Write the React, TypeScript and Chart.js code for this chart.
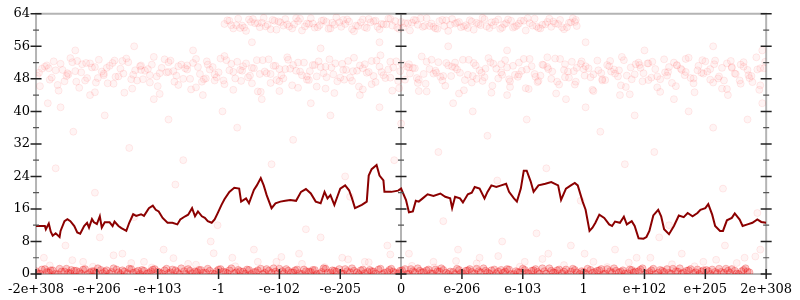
import React, { useEffect, useRef } from 'react';
import { Chart, registerables } from 'chart.js';

Chart.register(...registerables);

// X axis: 744 bins, 13 labelled ticks
const xTickLabels = ['-2e+308', '-e+206', '-e+103', '-1', '-e-102', '-e-205', '0', 'e-206', 'e-103', '1', 'e+102', 'e+205', '2e+308'];
const xTickValues = [0, 62, 124, 186, 248, 310, 372, 434, 496, 558, 620, 682, 744];
const yTickValues = [0, 8, 16, 24, 32, 40, 48, 56, 64];
const yMinorTicks = [4, 12, 20, 28, 36, 44, 52, 60];
const zeroBin = 372;

// Smoothed line
const lineX = [0, 9, 10, 13, 15, 17, 20, 24, 25, 29, 32, 35, 39, 42, 45, 49, 52, 54, 57, 59, 62, 65, 67, 70, 75, 78, 80, 84, 87, 92, 95, 99, 102, 107, 110, 115, 119, 122, 125, 129, 134, 139, 144, 147, 152, 155, 159, 162, 165, 169, 172, 175, 179, 182, 185, 189, 192, 197, 202, 207, 209, 214, 217, 222, 225, 229, 232, 235, 240, 244, 249, 254, 259, 265, 270, 275, 280, 285, 290, 294, 297, 300, 304, 307, 310, 315, 319, 322, 325, 332, 337, 339, 342, 347, 350, 354, 355, 362, 369, 372, 377, 380, 384, 387, 390, 394, 399, 405, 412, 417, 422, 424, 427, 432, 435, 440, 444, 447, 452, 457, 460, 464, 469, 474, 479, 482, 487, 490, 494, 497, 500, 504, 507, 512, 519, 525, 532, 535, 540, 545, 549, 552, 557, 560, 564, 567, 570, 574, 579, 584, 587, 590, 595, 599, 602, 607, 610, 614, 619, 622, 625, 629, 634, 637, 640, 645, 650, 655, 660, 664, 669, 674, 677, 682, 685, 689, 692, 697, 700, 704, 709, 712, 717, 720, 725, 730, 735, 739, 744];
const lineY = [11.8, 11.8, 11.0, 12.4, 10.4, 9.4, 10.0, 9.1, 10.6, 13.0, 13.5, 13.0, 11.8, 10.2, 9.9, 11.8, 12.6, 11.4, 13.5, 12.7, 12.3, 14.2, 11.4, 12.7, 12.7, 11.8, 12.9, 11.8, 11.3, 10.6, 12.6, 14.7, 14.3, 14.7, 14.3, 16.2, 16.8, 15.8, 15.4, 13.8, 12.6, 12.6, 12.2, 13.4, 14.2, 14.6, 16.2, 14.2, 15.4, 14.2, 13.8, 13.0, 12.6, 13.4, 14.9, 17.0, 18.4, 20.2, 21.2, 21.0, 17.8, 18.6, 17.4, 20.7, 21.8, 23.6, 21.8, 19.4, 16.2, 17.4, 17.8, 18.0, 18.2, 18.0, 20.2, 20.9, 19.8, 17.8, 17.4, 20.2, 18.6, 19.4, 17.0, 19.0, 21.0, 21.8, 20.6, 18.6, 16.2, 17.0, 17.8, 24.2, 25.8, 26.8, 24.2, 23.0, 20.2, 20.2, 20.5, 21.0, 18.2, 15.2, 15.4, 18.0, 17.8, 18.6, 19.6, 19.2, 19.8, 19.0, 18.6, 16.2, 19.0, 18.6, 17.6, 19.6, 20.0, 21.4, 21.0, 18.6, 20.2, 21.8, 21.4, 21.8, 22.2, 20.2, 18.6, 17.8, 21.0, 25.4, 25.4, 22.8, 20.2, 21.8, 22.2, 22.6, 21.8, 18.2, 21.0, 21.8, 22.4, 21.8, 17.8, 15.8, 10.6, 11.4, 12.6, 14.6, 13.8, 12.2, 11.8, 12.9, 12.6, 14.1, 12.2, 13.0, 11.8, 8.8, 8.7, 9.1, 10.6, 14.4, 15.8, 14.2, 11.0, 9.8, 11.8, 14.4, 14.0, 15.0, 14.2, 15.0, 15.8, 16.2, 17.2, 14.6, 11.8, 10.6, 10.6, 13.2, 13.8, 14.9, 13.4, 11.8, 12.2, 12.6, 13.4, 12.8, 12.6];

// Dense band near zero
const bottomX = [2, 6, 11, 15, 19, 24, 29, 33, 36, 41, 46, 50, 55, 59, 63, 68, 72, 77, 82, 86, 90, 95, 99, 104, 108, 113, 117, 121, 126, 131, 135, 139, 144, 148, 153, 157, 162, 166, 170, 175, 180, 184, 188, 193, 197, 202, 206, 211, 215, 219, 224, 229, 233, 237, 242, 246, 251, 255, 260, 264, 268, 273, 278, 282, 286, 291, 295, 300, 304, 309, 313, 317, 322, 327, 331, 335, 340, 344, 349, 353, 358, 362, 366, 371, 376, 380, 384, 389, 393, 398, 402, 407, 411, 415, 420, 425, 429, 433, 438, 442, 447, 451, 456, 460, 464, 469, 474, 478, 482, 487, 491, 496, 500, 505, 509, 513, 518, 523, 527, 531, 536, 540, 545, 549, 554, 558, 562, 567, 572, 576, 580, 585, 589, 594, 598, 603, 607, 611, 616, 621, 625, 629, 634, 638, 643, 647, 652, 656, 660, 665, 670, 674, 678, 683, 687, 692, 696, 701, 705, 709, 714, 719, 723, 727, 732, 736, 741];
const bottomY = [0.2, 1.1, 0.5, 0.9, 0, 1.3, 0.6, 0.3, 1, 0.8, 0.1, 1.2, 0.4, 0.7, 1.4, 0.2, 0.9, 0.5, 1.1, 0, 0.6, 1.3, 0.3, 0.8, 1, 0.1, 0.7, 1.2, 0.4, 0.9, 0.2, 1.1, 0.5, 1.4, 0, 0.8, 0.6, 1, 0.3, 1.3, 0.1, 0.7, 1.2, 0.4, 0.9, 0.2, 1, 0.6, 1.1, 0, 0.5, 1.3, 0.3, 0.8, 1.4, 0.1, 0.7, 1.2, 0.4, 0.9, 0.2, 1.1, 0.6, 1, 0, 0.5, 1.3, 0.3, 0.8, 1.2, 0.1, 0.7, 1.4, 0.4, 0.9, 0.2, 1, 0.6, 1.1, 0, 0.5, 1.3, 0.3, 0.8, 1.2, 0.1, 0.7, 1.4, 0.4, 0.9, 0.2, 1.1, 0.6, 1, 0, 0.5, 1.3, 0.3, 0.8, 1.2, 0.1, 0.7, 1.4, 0.4, 0.9, 0.2, 1, 0.6, 1.1, 0, 0.5, 1.3, 0.3, 0.8, 1.2, 0.1, 0.7, 1.4, 0.4, 0.9, 0.2, 1.1, 0.6, 1, 0, 0.5, 1.3, 0.3, 0.8, 1.2, 0.1, 0.7, 1.4, 0.4, 0.9, 0.2, 1, 0.6, 1.1, 0, 0.5, 1.3, 0.3, 0.8, 1.2, 0.1, 0.7, 1.4, 0.4, 0.9, 0.2, 1.1, 0.6, 1, 0, 0.5, 1.3, 0.3, 0.8, 1.2, 0.1, 0.7, 1.4, 0.4];
const bottomX2 = [0, 4, 9, 13, 17, 22, 26, 31, 35, 39, 44, 48, 53, 57, 61, 66, 70, 75, 79, 84, 88, 93, 97, 102, 106, 110, 115, 119, 124, 128, 133, 137, 142, 146, 151, 155, 159, 164, 168, 173, 177, 182, 186, 191, 195, 199, 204, 208, 213, 217, 222, 226, 231, 235, 240, 244, 248, 253, 257, 262, 266, 271, 275, 280, 284, 289, 293, 297, 302, 306, 311, 315, 320, 324, 329, 333, 338, 342, 346, 351, 355, 360, 364, 369, 373, 378, 382, 386, 391, 395, 400, 404, 409, 413, 418, 422, 427, 431, 435, 440, 444, 449, 453, 458, 462, 467, 471, 476, 480, 484, 489, 493, 498, 502, 507, 511, 516, 520, 525, 529, 533, 538, 542, 547, 551, 556, 560, 565, 569, 574, 578, 582, 587, 591, 596, 600, 605, 609, 614, 618, 623, 627, 631, 636, 640, 645, 649, 654, 658, 663, 667, 672, 676, 680, 685, 689, 694, 698, 703, 707, 712, 716, 721, 725, 729, 734, 738, 743];
const bottomY2 = [0.7, 0.1, 1.2, 0.4, 0.9, 0, 0.6, 1.3, 0.2, 0.8, 0.5, 1.1, 0, 0.7, 0.3, 1, 0.6, 0.1, 1.4, 0.4, 0.9, 0.2, 1.2, 0.5, 0, 0.8, 0.3, 1.1, 0.6, 0.1, 1.3, 0.4, 0.9, 0, 0.7, 1.2, 0.2, 0.5, 1, 0.3, 0.8, 0, 1.1, 0.6, 0.2, 1.4, 0.4, 0.7, 0.1, 1, 0.5, 0.9, 0, 1.2, 0.3, 0.6, 1.3, 0.2, 0.8, 0.4, 1.1, 0, 0.7, 0.5, 1, 0.1, 1.4, 0.3, 0.9, 0.6, 0.2, 1.2, 0.4, 0.8, 0, 1.1, 0.5, 0.7, 0.1, 1.3, 0.3, 1, 0.6, 0.2, 0.9, 0, 1.2, 0.4, 0.8, 0.5, 1.1, 0.1, 0.7, 1.4, 0.3, 0.6, 0, 1, 0.2, 0.9, 0.5, 1.3, 0.4, 0.8, 0.1, 1.1, 0.6, 0.3, 1.2, 0, 0.7, 0.4, 1, 0.2, 0.9, 0.5, 1.4, 0.1, 0.8, 0.3, 1.1, 0.6, 0, 1.3, 0.4, 0.7, 0.2, 1, 0.5, 0.9, 0, 1.2, 0.3, 0.8, 0.6, 0.1, 1.1, 0.4, 0.7, 1.4, 0.2, 0.9, 0, 1, 0.5, 0.3, 1.3, 0.6, 0.1, 0.8, 1.2, 0.4, 0, 0.9, 0.7, 1.1, 0.2, 0.5, 1.3, 0.3, 0.8, 0, 1, 0.6];
const lowX = [14, 37, 58, 79, 97, 118, 140, 163, 181, 203, 226, 250, 271, 294, 318, 339, 361, 383, 406, 428, 449, 471, 493, 516, 538, 559, 582, 604, 626, 648, 671, 693, 714, 733];
const lowY = [2.1, 3.4, 1.8, 4.6, 2.7, 1.6, 3.9, 2.3, 5.1, 1.9, 3, 4.2, 2.5, 1.7, 3.6, 2.9, 4.8, 2, 1.6, 3.2, 2.6, 4.4, 1.8, 3.7, 2.2, 5, 1.7, 2.8, 4, 2.4, 1.9, 3.5, 2.7, 4.3];

// Middle band (~44–54)
const midX = [3, 9, 14, 18, 22, 27, 31, 35, 40, 44, 47, 52, 57, 61, 64, 69, 73, 78, 81, 86, 90, 94, 99, 103, 107, 111, 116, 120, 124, 128, 133, 137, 141, 145, 150, 154, 158, 163, 167, 171, 175, 180, 184, 188, 192, 197, 201, 205, 209, 214, 218, 222, 226, 231, 235, 239, 244, 248, 252, 256, 261, 265, 269, 273, 278, 282, 286, 290, 295, 299, 303, 307, 312, 316, 320, 324, 329, 333, 337, 342, 346, 350, 354, 359, 363, 367, 371, 376, 380, 384, 388, 393, 397, 401, 405, 410, 414, 418, 423, 427, 431, 435, 440, 444, 448, 452, 457, 461, 465, 469, 474, 478, 482, 486, 491, 495, 499, 503, 508, 512, 516, 521, 525, 529, 533, 538, 542, 546, 550, 555, 559, 563, 567, 572, 576, 580, 584, 589, 593, 597, 601, 606, 610, 614, 618, 623, 627, 631, 636, 640, 644, 648, 653, 657, 661, 665, 670, 674, 678, 682, 687, 691, 695, 699, 704, 708, 712, 717, 721, 725, 729, 734, 738, 742];
const midY = [49.5, 51, 47.8, 52.3, 46.5, 50.2, 48.7, 53.1, 49.9, 45.8, 51.6, 48.2, 50.8, 47.1, 52.7, 49.3, 46.9, 51.9, 48.5, 50.5, 44.6, 52.1, 49, 47.6, 51.3, 50, 48.9, 53.4, 46.2, 50.7, 49.6, 52.5, 47.3, 51.1, 48, 50.3, 45.4, 52.9, 49.2, 47.9, 51.5, 50.9, 48.4, 53, 46.7, 50.1, 49.7, 52.2, 47.5, 51.8, 48.8, 50.6, 44.9, 52.6, 49.4, 47, 51.2, 50.4, 48.1, 53.3, 46.4, 50, 49.8, 52, 47.7, 51.4, 48.6, 50.9, 45.6, 52.8, 49.1, 47.4, 51.7, 50.2, 48.3, 53.2, 46.1, 50.6, 49.5, 52.4, 47.2, 51, 48.9, 50.3, 45.1, 52.3, 49.9, 47.8, 51.6, 50.7, 48.2, 53.5, 46.8, 50.4, 49.3, 52.1, 47.6, 51.9, 48.7, 50.8, 44.4, 52.7, 49, 47.1, 51.3, 50.1, 48.4, 53.1, 46.3, 50.5, 49.6, 52.6, 47.9, 51.2, 48.5, 50, 45.7, 52.9, 49.2, 47.5, 51.5, 50.9, 48, 53, 46.6, 50.2, 49.8, 52.2, 47.3, 51.7, 48.8, 50.6, 45.3, 52.5, 49.4, 47.7, 51.1, 50.3, 48.6, 53.4, 46, 50.8, 49.1, 52, 47.4, 51.8, 48.3, 50.4, 44.8, 52.8, 49.7, 47, 51.4, 50.5, 48.9, 53.2, 46.9, 50.1, 49.5, 52.3, 47.8, 51.6, 48.1, 50.7, 45.5, 52.4, 49.3, 47.6, 51, 50.2, 48.7, 53.3, 46.4, 50.6];
const midX2 = [6, 16, 25, 33, 42, 50, 60, 67, 75, 84, 92, 101, 109, 118, 126, 135, 143, 152, 160, 169, 177, 186, 194, 203, 211, 220, 228, 237, 245, 254, 262, 271, 279, 288, 296, 305, 313, 322, 330, 339, 347, 356, 364, 373, 381, 390, 398, 407, 415, 424, 432, 441, 449, 458, 466, 475, 483, 492, 500, 509, 517, 526, 534, 543, 551, 560, 568, 577, 585, 594, 602, 611, 619, 628, 636, 645, 653, 662, 670, 679, 687, 696, 704, 713, 721, 730, 738];
const midY2 = [50.5, 48.3, 51.7, 49.1, 52.4, 47.6, 50.9, 49.8, 51.2, 48.6, 53, 50.1, 47.9, 51.5, 49.4, 52.1, 48.8, 50.6, 51.9, 47.3, 50.3, 49.6, 52.6, 48.1, 51.1, 50.7, 49.2, 52.8, 47.7, 50.4, 51.4, 48.9, 49.9, 52.3, 48.4, 51.8, 50.2, 47.5, 51.3, 49.7, 52.5, 48.2, 50.8, 51.6, 49.3, 47.8, 52.2, 50, 48.7, 51, 49.5, 52.7, 48, 50.5, 51.7, 49, 47.4, 52, 50.3, 48.5, 51.4, 49.8, 52.9, 48.3, 50.7, 51.1, 49.1, 47.6, 52.4, 50.1, 48.8, 51.6, 49.4, 52.2, 47.9, 50.9, 51.3, 49.7, 48.1, 52.6, 50.4, 48.6, 51.8, 49.2, 52.1, 47.2, 50.6];
const midX3 = [1, 11, 20, 29, 37, 46, 55, 63, 72, 80, 89, 97, 106, 114, 123, 131, 140, 148, 157, 165, 174, 182, 191, 199, 208, 216, 225, 233, 242, 250, 259, 267, 276, 284, 293, 301, 310, 318, 327, 335, 344, 352, 361, 369, 378, 386, 395, 403, 412, 420, 429, 437, 446, 454, 463, 471, 480, 488, 497, 505, 514, 522, 531, 539, 548, 556, 565, 573, 582, 590, 599, 607, 616, 624, 633, 641, 650, 658, 667, 675, 684, 692, 701, 709, 718, 726, 735, 743];
const midY3 = [48.8, 51.3, 50.1, 47.4, 52.1, 49.6, 51.8, 48.2, 50.7, 52.5, 49.3, 47.9, 51.1, 50.4, 48.6, 52.8, 49.9, 51.5, 48, 50.9, 52.3, 49.1, 47.6, 51.7, 50.2, 48.4, 52.6, 49.8, 51.2, 48.9, 50.5, 52, 47.8, 51.4, 49.4, 50.8, 48.3, 52.4, 50, 51.6, 48.7, 49.7, 52.2, 47.5, 51, 50.6, 49.2, 52.7, 48.5, 51.3, 50.3, 47.7, 51.9, 49.5, 52.1, 48.1, 50.8, 49, 52.9, 51.1, 48.8, 50.4, 47.3, 51.6, 49.9, 52.3, 48.4, 50.1, 51.4, 49.3, 52.6, 47.9, 50.7, 51.8, 48.6, 49.6, 52, 50.2, 48.2, 51.2, 49.8, 52.5, 47.6, 50.9, 51.5, 48.9, 50.3, 52.2];
const midX4 = [4, 13, 23, 32, 41, 51, 60, 69, 79, 88, 98, 107, 116, 126, 135, 145, 154, 163, 173, 182, 192, 201, 210, 220, 229, 239, 248, 257, 267, 276, 286, 295, 304, 314, 323, 333, 342, 351, 361, 370, 380, 389, 398, 408, 417, 427, 436, 445, 455, 464, 474, 483, 492, 502, 511, 521, 530, 539, 549, 558, 568, 577, 586, 596, 605, 615, 624, 633, 643, 652, 662, 671, 680, 690, 699, 709, 718, 727, 737];
const midY4 = [46.2, 50.6, 45.1, 49.4, 47.3, 51.9, 44.7, 48.9, 46.8, 52.4, 45.6, 50.2, 47.1, 44.3, 49.7, 46.5, 51.3, 45.9, 48.1, 47.6, 53.6, 45.3, 50, 46.9, 44.8, 49.2, 47.4, 52.7, 45.8, 48.6, 46.1, 51, 44.5, 47.8, 49.9, 45.4, 46.7, 53.8, 48.3, 45.7, 50.8, 47, 44.9, 49.5, 46.3, 52, 45.2, 48.7, 47.5, 44.6, 51.6, 46, 49.1, 45.5, 47.2, 53.3, 44.4, 48.4, 46.6, 50.4, 45, 47.9, 49.8, 46.4, 44.2, 51.4, 47.7, 45.9, 48.8, 46.2, 52.9, 44.7, 49.3, 47.1, 45.6, 50.7, 46.8, 48.2, 45.3];

// Top band (~60–63), only between -1 and 1
const topX = [192, 197, 201, 206, 210, 214, 219, 223, 228, 232, 236, 241, 245, 249, 254, 258, 263, 267, 271, 276, 280, 284, 289, 293, 298, 302, 306, 311, 315, 319, 324, 328, 333, 337, 341, 346, 350, 354, 359, 363, 368, 372, 376, 381, 385, 389, 394, 398, 403, 407, 411, 416, 420, 424, 429, 433, 438, 442, 446, 451, 455, 459, 464, 468, 473, 477, 481, 486, 490, 494, 499, 503, 508, 512, 516, 521, 525, 529, 534, 538, 543, 547, 551];
const topY = [61.5, 62.3, 60.4, 62.8, 61.1, 59.8, 62, 61.7, 60.7, 63, 61.3, 62.5, 60.1, 61.9, 62.7, 60.9, 61.4, 62.2, 59.9, 61.6, 62.9, 60.6, 61.2, 62.4, 60.3, 61.8, 63.1, 60.8, 61.5, 62.1, 59.7, 61, 62.6, 60.5, 61.9, 62.3, 60.2, 61.4, 62.8, 61.1, 60.6, 62, 61.7, 59.9, 62.5, 61.3, 60.8, 62.9, 61.6, 60.4, 62.2, 61, 59.8, 62.7, 61.8, 60.7, 61.2, 62.4, 60.1, 61.5, 63, 60.9, 61.9, 62.1, 60.3, 61.4, 62.6, 60.6, 61.1, 62.3, 59.9, 61.7, 62.8, 60.5, 61.3, 62, 60.8, 61.6, 62.5, 60.2, 61.8, 62.9, 61];
const topX2 = [195, 204, 212, 221, 230, 239, 247, 256, 265, 274, 282, 291, 300, 309, 317, 326, 335, 344, 352, 361, 370, 379, 387, 396, 405, 414, 422, 431, 440, 449, 457, 466, 475, 484, 492, 501, 510, 519, 527, 536, 545, 550];
const topY2 = [62.4, 61.2, 60.6, 62.7, 61.8, 60.2, 62.1, 61.4, 62.9, 60.9, 61.6, 62.3, 60.4, 61.9, 62.6, 61.1, 60.7, 62.2, 61.5, 62.8, 60.3, 61.7, 62.4, 61, 60.8, 62.5, 61.3, 62, 60.5, 61.8, 62.7, 61.2, 60.6, 62.3, 61.6, 62.9, 60.9, 61.4, 62.1, 60.7, 61.9, 62.5];
const topX3 = [199, 208, 217, 226, 234, 243, 252, 261, 269, 278, 287, 296, 304, 313, 322, 331, 339, 348, 357, 366, 374, 383, 392, 401, 409, 418, 427, 436, 444, 453, 462, 471, 479, 488, 497, 506, 514, 523, 532, 541, 549];
const topY3 = [61.2, 60.5, 62.6, 61.7, 60.9, 62.3, 61.1, 60.4, 62.8, 61.5, 60.7, 62, 61.3, 62.5, 60.2, 61.9, 62.7, 60.8, 61.4, 62.2, 60.6, 61.8, 62.9, 61, 60.3, 62.4, 61.6, 60.9, 62.1, 61.2, 60.5, 62.6, 61.7, 60.8, 62.3, 61.1, 60.4, 62.8, 61.5, 60.7, 62];

// Sparse scattered points
const sparseX = [12, 25, 38, 55, 70, 95, 120, 135, 150, 170, 190, 205, 230, 248, 262, 280, 300, 315, 330, 350, 372, 390, 410, 425, 445, 460, 480, 500, 520, 540, 560, 575, 595, 610, 630, 650, 665, 690, 705, 725, 740, 8, 30, 48, 65, 88, 110, 130, 155, 178, 200, 222, 245, 268, 290, 312, 335, 358, 380, 405, 430, 452, 475, 498, 522, 545, 568, 590, 612, 635, 658, 680, 702, 722, 738, 20, 60, 100, 142, 185, 240, 275, 320, 365, 415, 470, 510, 555, 600, 645, 700, 735, 40, 100, 160, 220, 290, 350, 420, 480, 560, 620, 690, 740];
const sparseY = [42, 41, 35, 44, 39, 31, 43, 38, 28, 44, 40, 36, 43, 45, 33, 42, 39, 24, 44, 41, 37, 45, 30, 42, 40, 34, 44, 38, 26, 43, 41, 35, 44, 39, 30, 43, 40, 36, 44, 38, 42, 4, 7, 3, 9, 5, 3, 6, 2.5, 8, 4, 6, 3, 5, 9, 4, 3, 7, 5, 3, 6, 4, 8, 3, 5, 7, 3, 6, 4, 9, 5, 3, 7, 4, 6, 26, 20, 14, 22, 12, 27, 11, 19, 28, 13, 23, 10, 18, 27, 12, 21, 15, 55, 56, 55, 57, 55.5, 57, 56, 55, 57, 55, 56, 55];

const zip = (xs: number[], ys: number[]) => {
  const n = Math.min(xs.length, ys.length);
  const out: { x: number; y: number }[] = [];
  for (let i = 0; i < n; i++) out.push({ x: xs[i], y: ys[i] });
  return out;
};

const FONT = { family: '"DejaVu Serif", serif', size: 13 };

const axesPlugin = {
  id: 'axesFrame',
  beforeDatasetsDraw(chart: any) {
    const { ctx, chartArea: a, scales } = chart;
    const cx = Math.round(scales.x.getPixelForValue(zeroBin));
    ctx.save();
    ctx.strokeStyle = '#b4b4b4';
    ctx.lineWidth = 2;
    ctx.beginPath();
    ctx.moveTo(a.left, a.top); ctx.lineTo(a.right, a.top);
    ctx.moveTo(a.left, a.bottom); ctx.lineTo(a.right, a.bottom);
    ctx.moveTo(a.left, a.top - 1); ctx.lineTo(a.left, a.bottom + 1);
    ctx.moveTo(a.right, a.top - 1); ctx.lineTo(a.right, a.bottom + 1);
    ctx.moveTo(cx, a.top - 1); ctx.lineTo(cx, a.bottom + 1);
    ctx.stroke();
    ctx.restore();
  },
  afterDatasetsDraw(chart: any) {
    const { ctx, chartArea: a, scales } = chart;
    const cx = Math.round(scales.x.getPixelForValue(zeroBin));
    const ys = scales.y;
    const xs = [a.left, cx, a.right];
    ctx.save();
    ctx.lineWidth = 1.5;
    ctx.strokeStyle = '#222';
    ctx.beginPath();
    yTickValues.forEach((v) => {
      const py = ys.getPixelForValue(v);
      xs.forEach((px) => { ctx.moveTo(px - 5.5, py); ctx.lineTo(px + 5.5, py); });
    });
    xTickValues.forEach((v) => {
      const px = scales.x.getPixelForValue(v);
      ctx.moveTo(px, a.bottom - 5); ctx.lineTo(px, a.bottom + 5);
    });
    ctx.stroke();
    ctx.strokeStyle = '#555';
    ctx.lineWidth = 1.2;
    ctx.beginPath();
    yMinorTicks.forEach((v) => {
      const py = ys.getPixelForValue(v);
      xs.forEach((px) => { ctx.moveTo(px - 3, py); ctx.lineTo(px + 3, py); });
    });
    ctx.stroke();
    ctx.restore();
  },
};

const pale = { backgroundColor: 'rgba(255,0,0,0.045)', borderColor: 'rgba(255,0,0,0.08)', pointRadius: 3.5, borderWidth: 1, clip: 0, order: 2 };
const dense = { backgroundColor: 'rgba(235,0,0,0.2)', borderColor: 'rgba(235,0,0,0.24)', pointRadius: 3.5, borderWidth: 1, clip: 0, order: 1 };

export default function App() {
  const ref = useRef<HTMLCanvasElement | null>(null);
  useEffect(() => {
    if (!ref.current) return;
    const chart = new Chart(ref.current, {
      type: 'scatter',
      data: {
        datasets: [
          { label: 'avg', data: zip(lineX, lineY), showLine: true, borderColor: '#8b0000', backgroundColor: '#8b0000', borderWidth: 2, pointRadius: 0, tension: 0, order: 0, clip: 0 } as any,
          { label: 'bottom', data: zip(bottomX, bottomY), ...dense } as any,
          { label: 'bottom2', data: zip(bottomX2, bottomY2), ...dense } as any,
          { label: 'low', data: zip(lowX, lowY), ...pale } as any,
          { label: 'mid', data: zip(midX, midY), ...pale } as any,
          { label: 'mid2', data: zip(midX2, midY2), ...pale } as any,
          { label: 'mid3', data: zip(midX3, midY3), ...pale } as any,
          { label: 'mid4', data: zip(midX4, midY4), ...pale } as any,
          { label: 'top', data: zip(topX, topY), ...pale } as any,
          { label: 'top2', data: zip(topX2, topY2), ...pale } as any,
          { label: 'top3', data: zip(topX3, topY3), ...pale } as any,
          { label: 'sparse', data: zip(sparseX, sparseY), ...pale } as any,
        ],
      },
      options: {
        animation: false,
        responsive: false,
        events: [],
        layout: { padding: { top: 8, right: 26, left: 0, bottom: 0 } },
        plugins: { legend: { display: false }, tooltip: { enabled: false } },
        scales: {
          x: {
            type: 'linear',
            min: 0,
            max: 744,
            grid: { display: false, drawTicks: false },
            border: { display: false },
            afterBuildTicks: (s: any) => { s.ticks = xTickValues.map((v) => ({ value: v })); },
            afterFit: (s: any) => { s.height = 26; },
            ticks: {
              autoSkip: false,
              maxRotation: 0,
              minRotation: 0,
              padding: 8,
              color: '#000',
              font: FONT,
              callback: (v: any) => { const i = xTickValues.indexOf(Number(v)); return i >= 0 ? xTickLabels[i] : ''; },
            },
          },
          y: {
            type: 'linear',
            min: 0,
            max: 64,
            grid: { display: false, drawTicks: false },
            border: { display: false },
            afterBuildTicks: (s: any) => { s.ticks = yTickValues.map((v) => ({ value: v })); },
            afterFit: (s: any) => { s.width = 28; },
            ticks: { padding: 6, color: '#000', font: FONT },
          },
        },
      } as any,
      plugins: [axesPlugin],
    });
    return () => chart.destroy();
  }, []);
  return (
    <div style={{ position: 'absolute', left: 0, top: 0, width: 800, height: 300 }}>
      <canvas ref={ref} width={800} height={300} style={{ display: 'block', width: 800, height: 300 }} />
    </div>
  );
}
